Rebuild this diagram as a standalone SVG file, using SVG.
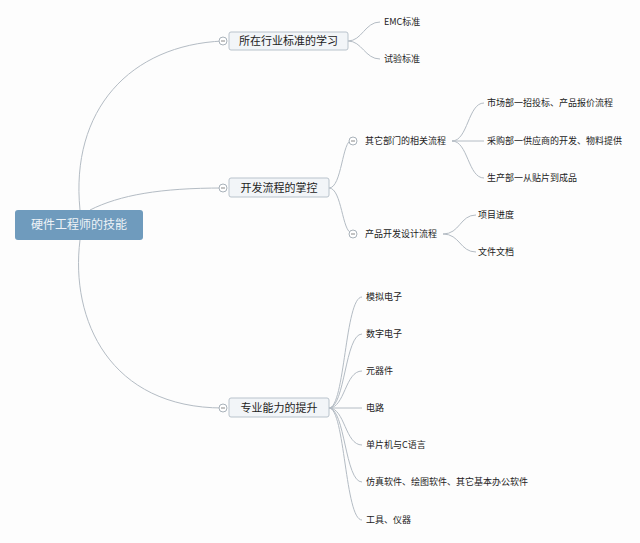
<svg xmlns="http://www.w3.org/2000/svg" width="640" height="543" viewBox="0 0 640 543">
<style>
text{font-family:"Noto Sans CJK SC","Liberation Sans",sans-serif;fill:#222}
.s{font-size:9px}
.m{font-size:11px}
.c{fill:none;stroke:#b4bcc4;stroke-width:1}
.box{fill:#f2f5f8;stroke:#b9c3cc;stroke-width:1}
.col{fill:#fff;stroke:#a9b2ba;stroke-width:1}
.mn{stroke:#888;stroke-width:1}
</style>
<rect width="640" height="543" fill="#fdfdfd"/>
<g id="connectors">
<path class="c" d="M80 210 C70 110 130 45 223 41"/>
<path class="c" d="M90 210 C120 195 160 188 223 188"/>
<path class="c" d="M80 240 C70 320 110 408 223 408"/>
<path class="c" d="M348 41 C362 41 365 22 380 22"/>
<path class="c" d="M348 41 C362 41 365 59 380 59"/>
<path class="c" d="M329 188 C342 188 342 140 352 140"/>
<path class="c" d="M329 188 C342 188 342 233 352 233"/>
<path class="c" d="M452 141 C468 141 468 103 484 103"/>
<path class="c" d="M452 141 L484 141"/>
<path class="c" d="M452 141 C468 141 468 178 484 178"/>
<path class="c" d="M443 234 C460 234 460 215 476 215"/>
<path class="c" d="M443 234 C460 234 460 252 476 252"/>
<path class="c" d="M329 408 C345 408 345 297 362 297"/>
<path class="c" d="M329 408 C345 408 345 334 362 334"/>
<path class="c" d="M329 408 C345 408 345 371 362 371"/>
<path class="c" d="M329 408 L362 408"/>
<path class="c" d="M329 408 C345 408 345 445 362 445"/>
<path class="c" d="M329 408 C345 408 345 482 362 482"/>
<path class="c" d="M329 408 C345 408 345 520 362 520"/>
</g>
<g id="root"><rect x="15" y="210" width="128" height="30" rx="3" fill="#6f9bbd"/><text x="79" y="229" class="m" text-anchor="middle" style="fill:#eef3f7;font-size:12px">硬件工程师的技能</text></g>
<g id="n1"><rect class="box" x="229" y="32" width="119" height="18" rx="2"/><text class="m" x="288.5" y="45" text-anchor="middle">所在行业标准的学习</text><circle class="col" cx="223" cy="41" r="4"/><line class="mn" x1="221" y1="41" x2="225" y2="41"/></g>
<g id="n2"><rect class="box" x="229" y="178" width="100" height="19" rx="2"/><text class="m" x="279" y="191.5" text-anchor="middle">开发流程的掌控</text><circle class="col" cx="223" cy="188" r="4"/><line class="mn" x1="221" y1="188" x2="225" y2="188"/></g>
<g id="n3"><rect class="box" x="229" y="398" width="100" height="19" rx="2"/><text class="m" x="279" y="411.5" text-anchor="middle">专业能力的提升</text><circle class="col" cx="223" cy="408" r="4"/><line class="mn" x1="221" y1="408" x2="225" y2="408"/></g>
<g id="emc"><text class="s" x="384" y="25">EMC标准</text></g>
<g id="sy"><text class="s" x="384" y="62">试验标准</text></g>
<g id="qt"><circle class="col" cx="353" cy="141" r="4"/><line class="mn" x1="351" y1="141" x2="355" y2="141"/><text class="s" x="365" y="144">其它部门的相关流程</text></g>
<g id="cp"><circle class="col" cx="353" cy="234" r="4"/><line class="mn" x1="351" y1="234" x2="355" y2="234"/><text class="s" x="365" y="237">产品开发设计流程</text></g>
<g id="a1"><text class="s" x="487" y="106">市场部一招投标、产品报价流程</text></g>
<g id="a2"><text class="s" x="487" y="144">采购部一供应商的开发、物料提供</text></g>
<g id="a3"><text class="s" x="487" y="181">生产部一从贴片到成品</text></g>
<g id="b1"><text class="s" x="478" y="218">项目进度</text></g>
<g id="b2"><text class="s" x="478" y="255">文件文档</text></g>
<g id="c1"><text class="s" x="366" y="300">模拟电子</text></g>
<g id="c2"><text class="s" x="366" y="337">数字电子</text></g>
<g id="c3"><text class="s" x="366" y="374">元器件</text></g>
<g id="c4"><text class="s" x="366" y="411">电路</text></g>
<g id="c5"><text class="s" x="366" y="448">单片机与C语言</text></g>
<g id="c6"><text class="s" x="366" y="485">仿真软件、绘图软件、其它基本办公软件</text></g>
<g id="c7"><text class="s" x="366" y="523">工具、仪器</text></g>
</svg>
